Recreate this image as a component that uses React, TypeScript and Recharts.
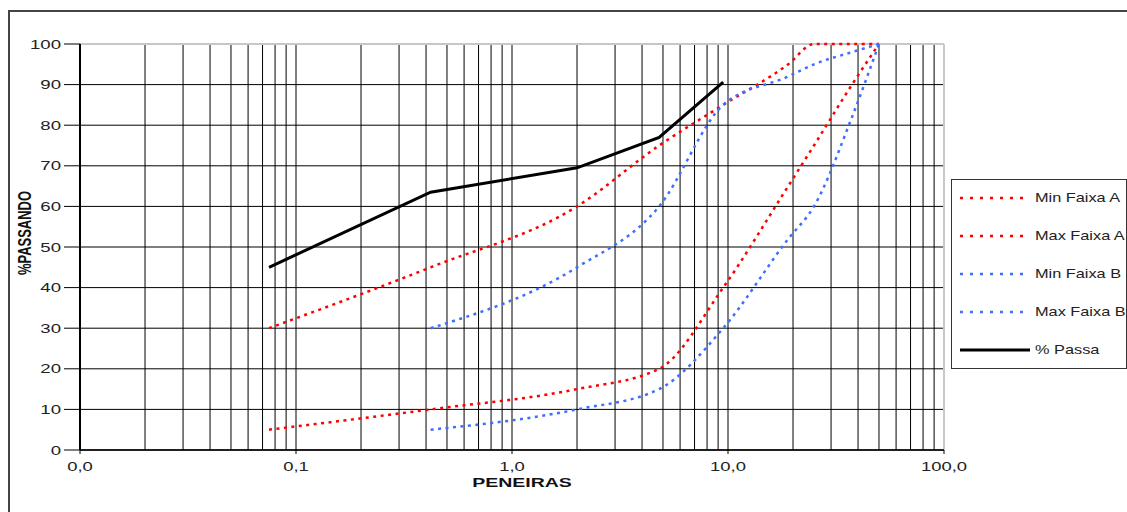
import React from 'react';
import { LineChart, Line, XAxis, YAxis, CartesianGrid, ReferenceLine, Label } from 'recharts';

// ---- data ----
const sievesA = [0.075, 0.42, 2.0, 4.8, 9.5, 19, 25, 37.5, 50];
const minFaixaA = [5, 10, 15, 20, 40, 65, 75, 90, 100];
const maxFaixaA = [30, 45, 60, 75, 85, 95, 100, 100, 100];
const sievesB = [0.42, 2.0, 4.8, 9.5, 19, 25, 37.5, 50];
const minFaixaB = [5, 10, 15, 30, 52, 60, 82, 100];
const maxFaixaB = [30, 45, 60, 85, 92, 95, 98, 100];
const sievesPassa = [0.075, 0.42, 2.0, 4.8, 9.5];
const passa = [45, 63.5, 69.5, 77, 90.6];

const xMajorTicks = [0.01, 0.1, 1, 10, 100];
const xTickLabels = ['0,0', '0,1', '1,0', '10,0', '100,0'];
const yTicks = [0, 10, 20, 30, 40, 50, 60, 70, 80, 90, 100];
const minorMultipliers = [1, 2, 3, 4, 5, 6, 7, 8, 9];

const RED = '#FF0000';
const BLUE = '#3F6FFF';
const FONT = '"Liberation Sans", Arial, sans-serif';

const toPts = (xs: number[], ys: number[]) => xs.map((x, i) => ({ x, y: ys[i] }));

const series = [
  { name: 'Min Faixa A', data: toPts(sievesA, minFaixaA), color: RED, dotted: true },
  { name: 'Max Faixa A', data: toPts(sievesA, maxFaixaA), color: RED, dotted: true },
  { name: 'Min Faixa B', data: toPts(sievesB, minFaixaB), color: BLUE, dotted: true },
  { name: 'Max Faixa B', data: toPts(sievesB, maxFaixaB), color: BLUE, dotted: true },
  { name: '% Passa', data: toPts(sievesPassa, passa), color: '#000000', dotted: false },
];

const allXTicks: number[] = [];
xMajorTicks.slice(0, 4).forEach((d) => {
  minorMultipliers.forEach((m) => allXTicks.push(Number((d * m).toPrecision(3))));
});
allXTicks.push(100);

const XTick = (props: any) => {
  const { x, y, payload } = props;
  const idx = xMajorTicks.findIndex((t) => Math.abs(t - payload.value) < 1e-9);
  if (idx < 0) return <g />;
  const axisY = y - 4;
  return (
    <g>
      <line x1={x} x2={x} y1={axisY} y2={axisY + 4} stroke="#000" strokeWidth={1} />
      <g transform={`translate(${x},${axisY + 21}) scale(1.42,1)`}>
        <text x={0} y={0} textAnchor="middle" fontSize={13} fontFamily={FONT} fill="#222">
          {xTickLabels[idx]}
        </text>
      </g>
    </g>
  );
};

// tickSize and tickMargin are 0 on the Y axis, so x is the axis line itself
const YTick = (props: any) => {
  const { x, y, payload } = props;
  return (
    <g>
      <line x1={x - 16} x2={x} y1={y} y2={y} stroke="#000" strokeWidth={1} />
      <g transform={`translate(${x - 19},${y}) scale(1.43,1)`}>
        <text x={0} y={0} dy="0.35em" textAnchor="end" fontSize={13} fontFamily={FONT} fill="#222">
          {payload.value}
        </text>
      </g>
    </g>
  );
};

const YTitle = (props: any) => {
  const vb = props.viewBox || {};
  const cx = vb.x + 17;
  const cy = vb.y + vb.height / 2 - 14;
  return (
    <g transform={`translate(${cx},${cy}) scale(1.4,1) rotate(-90)`}>
      <text x={0} y={0} dy="0.35em" textAnchor="middle" fontSize={13} fontWeight="bold" fontFamily={FONT} fill="#111">
        %PASSANDO
      </text>
    </g>
  );
};

const XTitle = (props: any) => {
  const vb = props.viewBox || {};
  const cx = vb.x + vb.width / 2 + 10;
  const cy = vb.y + 37;
  return (
    <g transform={`translate(${cx},${cy}) scale(1.5,1)`}>
      <text x={0} y={0} textAnchor="middle" fontSize={13} fontWeight="bold" fontFamily={FONT} fill="#111">
        PENEIRAS
      </text>
    </g>
  );
};

const LegendBox = () => (
  <div
    style={{
      position: 'absolute',
      left: 951,
      top: 179,
      width: 176,
      height: 190,
      border: '1px solid #333',
      background: '#fff',
      boxSizing: 'border-box',
      zIndex: 3,
      overflow: 'hidden',
    }}
  >
    <svg width={176} height={190} style={{ display: 'block' }}>
      {series.map((s, i) => {
        const cy = 18 + i * 38;
        return (
          <g key={s.name}>
            {s.dotted ? (
              <line x1={8} x2={72} y1={cy} y2={cy} stroke={s.color} strokeWidth={2.5} strokeDasharray="3 7" />
            ) : (
              <line x1={8} x2={78} y1={cy} y2={cy} stroke={s.color} strokeWidth={3} />
            )}
            <g transform={`translate(83,${cy}) scale(1.36,1)`}>
              <text x={0} y={0} dy="0.35em" fontSize={12} fontFamily={FONT} fill="#222">
                {s.name}
              </text>
            </g>
          </g>
        );
      })}
    </svg>
  </div>
);

export default function App() {
  return (
    <div style={{ position: 'relative', width: 1127, height: 512, overflow: 'hidden', fontFamily: FONT, background: '#fff' }}>
      <style>{'html,body{margin:0;padding:0;overflow:hidden;}'}</style>
      <div
        style={{
          position: 'absolute',
          left: 8,
          top: 10,
          width: 1400,
          height: 800,
          border: '2px solid #444',
          boxSizing: 'border-box',
        }}
      />
      <div style={{ position: 'absolute', left: 8, top: 8, zIndex: 2 }}>
        <LineChart width={1119} height={496} margin={{ top: 36, right: 183, bottom: 24, left: 0 }}>
          <CartesianGrid stroke="#000" strokeWidth={1} />
          <XAxis
            type="number"
            dataKey="x"
            scale="log"
            domain={[0.01, 100]}
            ticks={allXTicks}
            interval={0}
            allowDataOverflow
            height={30}
            tickSize={4}
            tickMargin={0}
            tickLine={false}
            tick={<XTick />}
            axisLine={{ stroke: '#000', strokeWidth: 1.5 }}
          >
            <Label content={<XTitle />} />
          </XAxis>
          <YAxis
            type="number"
            domain={[0, 100]}
            ticks={yTicks}
            interval={0}
            width={72}
            tickSize={0}
            tickMargin={0}
            tick={<YTick />}
            tickLine={false}
            axisLine={{ stroke: '#000', strokeWidth: 2 }}
          >
            <Label content={<YTitle />} />
          </YAxis>
          <ReferenceLine y={100} stroke="#c8c8c8" strokeWidth={2} />
          <ReferenceLine x={100} stroke="#c8c8c8" strokeWidth={2} />
          {series.map((s) => (
            <Line
              key={s.name}
              data={s.data}
              dataKey="y"
              name={s.name}
              type={s.dotted ? 'monotone' : 'linear'}
              stroke={s.color}
              strokeWidth={s.dotted ? 2.5 : 3}
              strokeDasharray={s.dotted ? '3 4.5' : undefined}
              dot={false}
              activeDot={false}
              isAnimationActive={false}
            />
          ))}
        </LineChart>
      </div>
      <LegendBox />
    </div>
  );
}
